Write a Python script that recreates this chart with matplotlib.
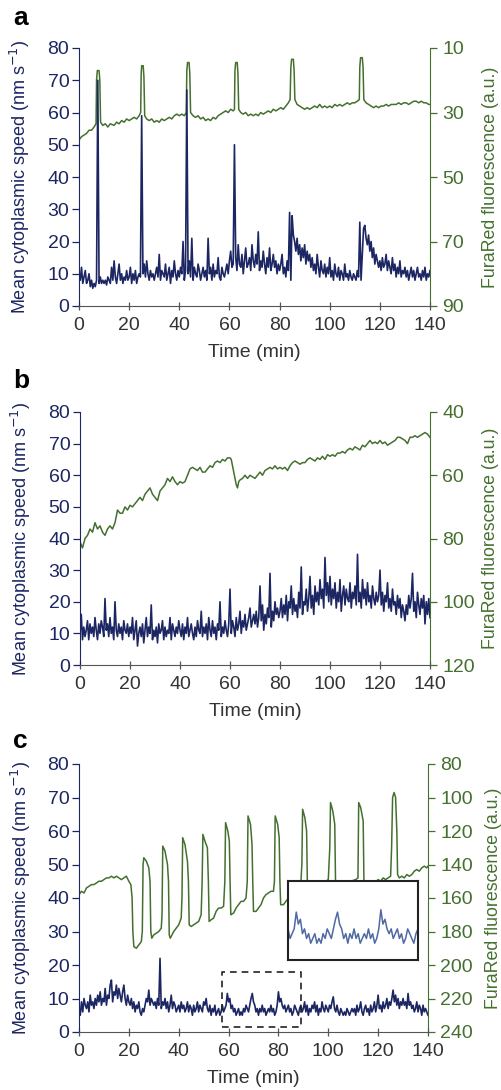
import numpy as np
import matplotlib.pyplot as plt

plt.rcParams['font.family'] = ['Liberation Sans', 'DejaVu Sans']

NAVY = "#1c2662"
GREEN = "#44702f"
GREY = "#333333"
INSET_BLUE = "#4f69a3"

'''
DATA
'''
# speed traces sampled every 0.5 min (0 .. 140 min)
t_speed = np.arange(0, 140.5, 0.5)

speed_a = [
    10, 8, 12, 7, 9, 11, 7, 8, 10, 6, 8, 5.5, 7, 6, 8, 70, 7, 9, 7, 8,
    7, 8, 6.5, 9, 8, 7, 12, 8, 14, 9, 7, 10, 13, 8, 10, 7, 9, 8, 11, 8,
    9, 12, 7, 10, 8, 11, 7, 9, 10, 9, 59, 10, 13, 9, 14, 10, 8, 11, 9, 10,
    8, 10, 12, 9, 16, 8, 11, 10, 9, 13, 8, 10, 12, 7, 11, 9, 14, 10, 8, 11,
    9, 12, 10, 20, 8, 11, 67, 10, 14, 9, 21, 8, 12, 10, 9, 13, 11, 8, 10, 12,
    9, 11, 8, 21, 10, 12, 8, 13, 9, 11, 10, 15, 9, 8, 12, 10, 9, 11, 13, 10,
    14, 17, 12, 13, 50, 15, 11, 19, 13, 12, 16, 10, 14, 18, 12, 13, 15, 11, 19, 14,
    12, 16, 13, 23, 11, 14, 12, 17, 13, 10, 15, 12, 18, 11, 13, 16, 12, 14, 10, 13,
    11, 13, 16, 10, 12, 9, 14, 11, 29, 8, 28, 22, 20, 17, 21, 16, 19, 14, 18, 15,
    19, 13, 17, 14, 16, 12, 15, 11, 13, 10, 16, 12, 9, 14, 11, 10, 13, 9, 12, 10,
    15, 9, 11, 8, 13, 10, 9, 12, 8, 11, 10, 8, 13, 9, 10, 8, 11, 9, 8, 10,
    9, 8, 11, 9, 26, 8, 16, 24, 25, 21, 19, 22, 17, 20, 15, 18, 13, 16, 14, 12,
    14, 11, 15, 12, 13, 16, 11, 14, 12, 10, 15, 11, 13, 9, 12, 10, 14, 9, 11, 10,
    12, 9, 11, 8, 10, 12, 9, 11, 8, 10, 12, 9, 10, 8, 11, 9, 12, 8, 10, 9,
    11,
]

speed_b = [
    10, 16, 8, 12, 9, 11, 14, 8, 13, 10, 12, 9, 15, 11, 8, 13, 10, 14, 12, 9,
    21, 11, 13, 9, 15, 10, 12, 8, 20, 11, 9, 13, 10, 12, 8, 14, 11, 10, 13, 9,
    12, 10, 15, 8, 11, 14, 6, 10, 12, 9, 13, 7, 11, 15, 9, 12, 10, 19, 8, 11,
    9, 12, 7, 13, 10, 11, 14, 8, 12, 9, 11, 10, 15, 8, 13, 11, 9, 12, 10, 14,
    11, 9, 13, 8, 12, 10, 15, 9, 11, 13, 10, 8, 12, 9, 14, 11, 10, 17, 9, 12,
    10, 13, 8, 15, 11, 9, 14, 10, 12, 8, 13, 11, 20, 9, 12, 10, 14, 11, 9, 13,
    24, 10, 14, 12, 9, 15, 11, 13, 17, 10, 14, 12, 16, 11, 13, 15, 18, 12, 14, 16,
    13, 17, 12, 15, 25, 14, 19, 11, 16, 13, 18, 15, 29, 12, 17, 14, 20, 16, 18, 15,
    17, 21, 15, 19, 16, 22, 14, 20, 18, 25, 16, 21, 17, 19, 15, 23, 18, 31, 16, 20,
    19, 24, 17, 21, 28, 18, 22, 16, 25, 20, 23, 19, 27, 21, 24, 18, 34, 22, 26, 20,
    28, 19, 24, 21, 26, 18, 23, 20, 27, 17, 22, 25, 19, 24, 21, 20, 26, 18, 23, 21,
    25, 19, 35, 20, 23, 18, 27, 21, 24, 19, 26, 20, 22, 18, 25, 21, 19, 23, 20, 22,
    30, 19, 23, 17, 22, 20, 26, 18, 21, 17, 24, 19, 20, 16, 22, 18, 21, 15, 19, 17,
    14, 19, 16, 22, 18, 21, 29, 17, 20, 15, 23, 19, 16, 21, 18, 22, 13, 20, 16, 21,
    15,
]

speed_c = [
    7, 5, 9, 6, 10, 8, 7, 9, 6, 11, 8, 9, 7, 10, 8, 11, 9, 12, 8, 10,
    9, 13, 8, 11, 10, 14, 15.5, 9, 12, 11, 14, 10, 13, 11, 9, 12, 14, 10, 8, 11,
    9, 8, 10, 7, 9, 6, 8, 7, 9, 6, 5, 7, 6, 8, 10, 9, 12.5, 8, 10, 9,
    8, 9, 7, 10, 8, 22, 7, 9, 8, 10, 7, 9, 6, 8, 11, 7, 9, 8, 6, 7,
    8, 6, 9, 7, 8, 6, 7, 9, 6, 8, 7, 5, 8, 6, 7, 9, 6, 8, 7, 6,
    9, 8, 10, 7, 6, 8, 5, 7, 6, 8, 5, 6, 7, 5, 6, 8, 6, 7, 8, 11.5,
    9, 10, 7, 8, 6, 7, 5, 6, 7, 5, 6, 5, 7, 6, 8, 7, 6, 8, 10, 11.5,
    9, 8, 6, 7, 5, 7, 6, 8, 6, 7, 5, 6, 7, 6, 8, 6, 7, 5, 6, 8,
    12, 9, 10, 8, 7, 8, 6, 7, 8, 6, 7, 5, 6, 8, 7, 6, 5, 7, 8, 6,
    7, 9, 6, 8, 5, 7, 6, 8, 7, 9, 6, 8, 5, 7, 6, 9, 7, 6, 8, 7,
    6, 8, 7, 9, 10.5, 7, 6, 8, 6, 5, 7, 6, 5, 6, 5, 7, 6, 5, 6, 7,
    6, 7, 5, 8, 6, 7, 9, 6, 5, 7, 8, 6, 7, 5, 8, 6, 7, 9, 6, 8,
    11, 7, 8, 6, 9, 7, 8, 10, 7, 9, 8, 10, 12.5, 9, 11, 8, 10, 7, 9, 8,
    10, 8, 9, 7, 11.5, 8, 9, 7, 8, 6, 7, 9, 6, 8, 7, 5, 8, 6, 7, 6,
    5,
]

# FuraRed traces (right axis units), irregular time points
t_fura_a = [
    0, 1, 2, 3, 4, 5, 6, 6.8, 7.0, 7.3, 8.0, 8.3, 8.6, 9.5, 10.5, 11.5, 12.5, 14, 15, 16,
    17, 18, 19, 20, 21, 22, 23, 24, 24.6, 24.8, 25.0, 25.6, 25.9, 26.2, 27, 28, 29, 30, 31, 32,
    33, 34, 35, 36, 37, 38, 39, 40, 41, 42, 42.8, 43.0, 43.3, 43.9, 44.2, 44.5, 45.5, 46.5, 47.5, 48.5,
    49.5, 50.5, 51.5, 52.5, 53.5, 54.5, 55.5, 56.5, 57.5, 58.5, 59.5, 60.5, 61.5, 62.0, 62.2, 62.5, 63.1, 63.4, 63.7, 64.5,
    65.5, 66.5, 67.5, 68.5, 69.5, 70.5, 71.5, 72.5, 73.5, 74.5, 75.5, 76.5, 77.5, 78.5, 79.5, 80.5, 81.5, 82.5, 83.5, 84.2,
    84.5, 84.8, 85.5, 85.8, 86.1, 87, 88, 89, 90, 91, 92, 93, 94, 95, 96, 97, 98, 99, 100, 101,
    102, 103, 104, 105, 106, 107, 108, 109, 110, 111, 111.8, 112.0, 112.3, 113.0, 113.3, 113.6, 114.5, 115.5, 116.5, 117.5,
    118.5, 119.5, 120.5, 121.5, 122.5, 123.5, 124.5, 125.5, 126.5, 127.5, 128.5, 129.5, 130.5, 131.5, 132.5, 133.5, 134.5, 135.5, 136.5, 137.5,
    138.5, 139.5, 140,
]
fura_a = [
    38.5, 37.5, 37, 36.5, 35.5, 35.5, 34.5, 33.5, 20, 17, 17, 20, 33, 34, 33.5, 34.5, 33.5, 34, 33, 33.5,
    32.5, 33, 32, 32.5, 32, 31.5, 32, 31, 30, 18, 15.5, 15.5, 19, 31, 32, 32.5, 32, 33, 32.5, 33,
    32, 32.5, 32, 31.5, 32, 31, 30.5, 31, 30.5, 31, 30, 17, 14.5, 14.5, 18, 30, 31, 31.5, 31, 32,
    31.5, 32.5, 32, 32.5, 31.5, 32, 31, 30.5, 30, 29.5, 30, 29, 29.5, 29, 17, 14.5, 14.5, 18, 29, 30,
    30.5, 30, 31, 30.5, 31, 30.5, 31, 30, 30.5, 30, 29.5, 30, 29, 29.5, 29, 28.5, 29, 28, 27, 26,
    16, 13.5, 13.5, 17, 26, 27.5, 28, 28.5, 29, 28.5, 29, 28.5, 28, 28.5, 27.5, 28.5, 28, 28.5, 28, 28.5,
    27.5, 28, 27.5, 28, 27.5, 27, 27.5, 27, 27, 26.5, 26, 16, 13, 13, 16, 26, 27, 27.5, 28, 28.5,
    28, 28.5, 28, 28, 27.5, 28, 27.5, 27.5, 27.5, 27, 27.5, 27, 27, 27.5, 27, 26.5, 26.5, 27, 26.5, 27,
    27, 27.5, 27.5,
]

t_fura_b = [
    0, 1, 2, 3, 4, 5, 6, 7, 8, 9, 10, 11, 12, 13, 14, 15, 16, 17, 18, 19,
    20, 21, 22, 23, 24, 25, 26, 27, 28, 29, 30, 31, 32, 33, 34, 35, 36, 37, 38, 39,
    40, 41, 42, 43, 44, 45, 46, 47, 48, 49, 50, 51, 52, 53, 54, 55, 56, 57, 58, 59,
    60, 60.5, 61, 61.5, 62, 62.5, 63, 63.5, 64, 65, 66, 67, 68, 69, 70, 71, 72, 73, 74, 75,
    76, 77, 78, 79, 80, 81, 82, 83, 84, 85, 86, 87, 88, 89, 90, 91, 92, 93, 94, 95,
    96, 97, 98, 99, 100, 101, 102, 103, 104, 105, 106, 107, 108, 109, 110, 111, 112, 113, 114, 115,
    116, 117, 118, 119, 120, 121, 122, 123, 124, 125, 126, 127, 128, 129, 130, 131, 132, 133, 134, 135,
    136, 137, 138, 139, 140,
]
fura_b = [
    81, 83, 80, 79, 77, 78, 75, 77, 76, 78, 79, 77, 76, 77, 75, 71, 72, 72, 70, 71,
    69.5, 70, 69, 68, 67, 68, 66, 65, 64, 66, 67, 68, 65, 64, 63, 61, 62, 60.5, 62, 63,
    62, 62.5, 62, 60, 58, 57.5, 58, 58.5, 57.5, 59, 59, 58, 57, 57.5, 56, 55.5, 56, 55, 55.5, 54.5,
    54.5, 55, 57, 59, 61, 63, 64, 62, 61.5, 61, 60, 61, 60, 60.5, 61, 60, 59, 60, 58.5, 58,
    57.5, 58, 57, 58, 57.5, 58, 57.5, 58.5, 57, 56, 55.5, 56, 56.5, 56, 56, 55, 54.5, 55, 55.5, 54.5,
    55, 54, 55, 53.5, 54, 53.5, 54, 53, 53, 52.5, 53, 52, 51.5, 52, 51, 51.5, 52, 50.5, 51, 50,
    49, 50, 49.5, 50, 49, 50, 49.5, 50.5, 50, 49.5, 49, 48, 48, 48.5, 49, 50, 48, 48, 47.5, 48,
    47.5, 47, 46.5, 47, 48,
]

t_fura_c = [
    0, 1, 2, 3, 4, 5, 6, 7, 8, 9, 10, 11, 12, 13, 14, 15, 16, 17, 18, 19,
    20, 20.8, 21.3, 21.6, 22, 23, 24, 25, 25.4, 25.7, 26, 27, 28, 28.5, 28.8, 29.2, 30, 31, 32, 33,
    33.3, 33.6, 34.5, 35.5, 35.9, 36.2, 36.6, 38, 39, 40, 41, 41.3, 41.6, 42.5, 43.5, 43.9, 44.2, 45, 46, 47,
    48, 49, 49.4, 49.7, 50.5, 51.5, 51.9, 52.2, 53, 54, 55, 56, 57, 58, 58.5, 58.8, 59.7, 60.3, 60.6, 60.9,
    62, 63, 64, 65, 66, 67, 67.5, 67.8, 68.8, 69.4, 69.7, 70, 71, 72, 73, 74, 75, 76, 77, 78,
    78.4, 78.7, 79.7, 80.3, 80.6, 80.9, 82, 83, 84, 85, 86, 87, 88, 89, 89.4, 89.7, 90.6, 91.3, 91.6, 91.9,
    93, 95, 97, 99, 100, 100.6, 100.9, 101.8, 102.6, 102.9, 103.2, 105, 107, 109, 111, 111.9, 112.2, 113, 114, 114.3,
    114.6, 116, 118, 120, 121, 122, 123, 124, 125, 125.4, 125.8, 126.4, 127, 127.5, 127.8, 128.5, 129.5, 130.5, 131.5, 132.5,
    133.5, 134.5, 135.5, 136.5, 137.5, 138.5, 139.5, 140,
]
fura_c = [
    158, 156, 157, 154, 153, 152, 152, 151, 150, 150, 149, 148, 148, 147, 148, 147, 148, 149, 148, 147,
    150, 152, 160, 180, 189, 190, 188, 186, 180, 140, 136, 138, 142, 150, 180, 184, 182, 181, 180, 178,
    170, 129, 132, 140, 150, 182, 184, 180, 178, 176, 172, 160, 124, 128, 138, 150, 176, 177, 176, 175,
    174, 170, 150, 122, 126, 130, 150, 174, 173, 172, 168, 166, 166, 165, 150, 115, 120, 126, 150, 170,
    169, 166, 164, 162, 162, 160, 150, 111, 116, 128, 150, 168, 168, 166, 164, 160, 158, 157, 156, 156,
    150, 111, 116, 124, 150, 164, 164, 162, 160, 158, 156, 154, 152, 151, 140, 107, 112, 120, 150, 164,
    162, 158, 154, 150, 149, 130, 103, 108, 116, 150, 162, 158, 154, 150, 149, 148, 103, 106, 114, 150,
    160, 156, 152, 149, 150, 148, 149, 148, 147, 130, 100, 97, 100, 120, 146, 148, 147, 148, 146, 147,
    146, 144, 143, 144, 142, 141, 142, 141,
]

# axis settings per panel
panel_labels = ["a", "b", "c"]
right_limits = [(10, 90), (40, 120), (80, 240)]
right_ticks = [[10, 30, 50, 70, 90], [40, 60, 80, 100, 120],
               [80, 100, 120, 140, 160, 180, 200, 220, 240]]
zoom_box = (57.5, 89, 1.5, 18)   # x0, x1, y0, y1 of the dashed box in panel c

'''
PLOTTING
'''
fig = plt.figure(figsize=(5.02, 10.9), dpi=100)

# [left, bottom, width, height] in figure fraction
positions = [
    [79/502, 1 - 306/1090, 351/502, 258/1090],
    [80/502, 1 - 665/1090, 350/502, 253/1090],
    [79/502, 1 - 1032/1090, 349/502, 268/1090],
]
right_label_x = [1.148, 1.149, 1.163]

speeds = [speed_a, speed_b, speed_c]
furas = [(t_fura_a, fura_a), (t_fura_b, fura_b), (t_fura_c, fura_c)]

axes = []
for i in range(3):
    ax = fig.add_axes(positions[i])
    ax2 = ax.twinx()
    ax.set_zorder(ax2.get_zorder() + 1)
    ax.patch.set_visible(False)

    ax.plot(t_speed, speeds[i], color=NAVY, lw=1.2)
    tf, vf = furas[i]
    ax2.plot(tf, vf, color=GREEN, lw=1.1)

    ax.set_xlim(0, 140)
    ax.set_ylim(0, 80)
    ax.set_xticks(np.arange(0, 141, 20))
    ax.set_yticks(np.arange(0, 81, 10))
    ax2.set_ylim(right_limits[i][1], right_limits[i][0])
    ax2.set_yticks(right_ticks[i])

    for a in (ax, ax2):
        a.spines['top'].set_visible(False)
    ax.spines['right'].set_visible(False)
    ax2.spines['left'].set_visible(False)
    ax2.spines['bottom'].set_visible(False)
    ax.spines['left'].set_color(NAVY)
    ax2.spines['right'].set_color(GREEN)
    ax.spines['bottom'].set_color("#555555")

    ax.tick_params(axis='y', colors=NAVY, labelsize=14, length=5, width=0.9, pad=2)
    ax2.tick_params(axis='y', colors=GREEN, labelsize=14, length=5, width=0.9, pad=4)
    ax.tick_params(axis='x', colors="#555555", labelcolor=GREY, labelsize=14,
                   direction='inout', length=6, width=0.9, pad=5)

    ax.set_xlabel("Time (min)", color=GREY, fontsize=14, labelpad=7)
    ax.set_ylabel("Mean cytoplasmic speed (nm s$^{-1}$)", color=NAVY, fontsize=13)
    ax.yaxis.set_label_coords(-0.133, 0.5)
    ax2.set_ylabel("FuraRed fluorescence (a.u.)", color=GREEN, fontsize=12.8,
                   rotation=90)
    ax2.yaxis.set_label_coords(right_label_x[i], 0.5)

    axes.append(ax)

# panel letters
for i, y in enumerate([18, 381, 741]):
    fig.text(13/502, 1 - y/1090, panel_labels[i], fontsize=19, fontweight='bold',
             va='center', ha='left')

# dashed zoom box and inset in panel c
axc = axes[2]
x0, x1, y0, y1 = zoom_box
axc.plot([x0, x1, x1, x0, x0], [y0, y0, y1, y1, y0], color="#222222",
         lw=1.2, ls=(0, (4, 3)))

ins = fig.add_axes([288/502, 1 - 960/1090, 130/502, 79/1090])
ins.set_zorder(axc.get_zorder() + 1)
ins.plot(t_speed, speed_c, color=INSET_BLUE, lw=1.1)
ins.set_xlim(x0, x1)
ins.set_ylim(y0, y1)
ins.set_xticks([])
ins.set_yticks([])
for s in ins.spines.values():
    s.set_linewidth(1.5)
    s.set_color("#222222")

fig.savefig("out.png", dpi=100)
